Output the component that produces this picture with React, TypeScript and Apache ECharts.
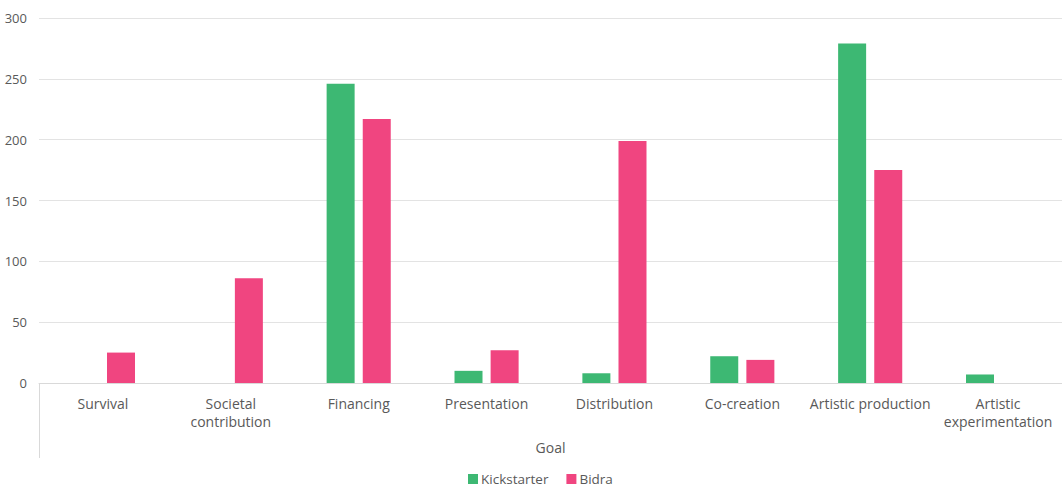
import React, { useEffect, useRef } from "react";
import * as echarts from "echarts";

const categories = [
  "Survival",
  "Societal\ncontribution",
  "Financing",
  "Presentation",
  "Distribution",
  "Co-creation",
  "Artistic production",
  "Artistic\nexperimentation",
];
const kickstarter = [0, 0, 246, 10, 8, 22, 279, 7];
const bidra = [25, 86, 217, 27, 199, 19, 175, 0];
const yTicks = { min: 0, max: 300, interval: 50 };

const FONT = "'Open Sans', 'Noto Sans', sans-serif";
const TEXT = "#595959";

export default function App() {
  const ref = useRef<HTMLDivElement>(null);
  useEffect(() => {
    document.body.style.margin = "0";
    if (!ref.current) return;
    const chart = echarts.init(ref.current, undefined, { renderer: "svg" });
    chart.setOption({
      animation: false,
      textStyle: { fontFamily: FONT },
      grid: { left: 39, right: 0, top: 18, bottom: 104, containLabel: false },
      legend: {
        bottom: 1,
        left: 468,
        padding: 0,
        itemWidth: 10,
        itemHeight: 10,
        itemGap: 18,
        icon: "rect",
        textStyle: { color: TEXT, fontSize: 13.5, fontFamily: FONT, padding: [0, 0, 0, -2] },
        data: ["Kickstarter", "Bidra"],
      },
      xAxis: {
        type: "category",
        data: categories,
        name: "Goal",
        nameLocation: "middle",
        nameGap: 57,
        nameTextStyle: { color: TEXT, fontSize: 14, fontFamily: FONT },
        axisLine: { lineStyle: { color: "#d9d9d9", width: 1 } },
        axisTick: { show: false },
        axisLabel: {
          color: TEXT,
          fontSize: 14,
          fontFamily: FONT,
          margin: 11,
          lineHeight: 18,
          interval: 0,
        },
      },
      yAxis: {
        type: "value",
        min: yTicks.min,
        max: yTicks.max,
        interval: yTicks.interval,
        axisLine: { show: false },
        axisTick: { show: false },
        axisLabel: { color: TEXT, fontSize: 13, fontFamily: FONT, margin: 12 },
        splitLine: { lineStyle: { color: "#e3e3e3", width: 1 } },
      },
      graphic: [
        {
          type: "line",
          shape: { x1: 39.5, y1: 383, x2: 39.5, y2: 458 },
          style: { stroke: "#d9d9d9", lineWidth: 1 },
          silent: true,
        },
      ],
      series: [
        {
          name: "Kickstarter",
          type: "bar",
          data: kickstarter,
          barWidth: 28,
          barGap: "29%",
          itemStyle: { color: "#3DB873" },
        },
        {
          name: "Bidra",
          type: "bar",
          data: bidra,
          barWidth: 28,
          barGap: "29%",
          itemStyle: { color: "#F04580" },
        },
      ],
    });
    return () => chart.dispose();
  }, []);
  return <div ref={ref} style={{ width: 1062, height: 487 }} />;
}
